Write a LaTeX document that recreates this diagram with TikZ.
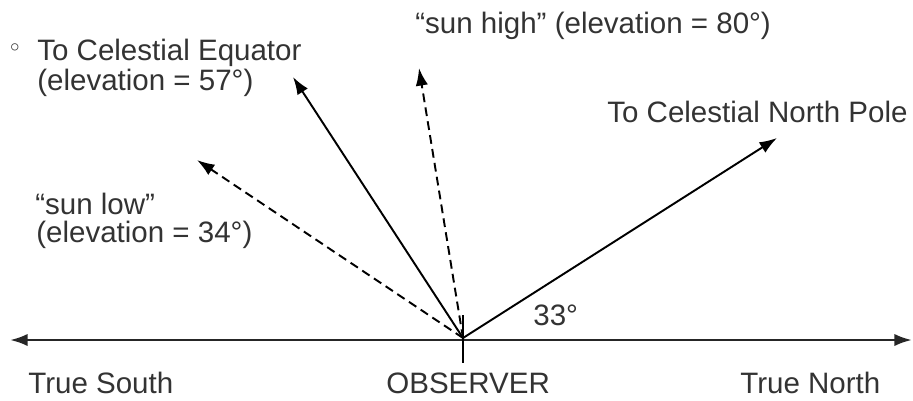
\documentclass[tikz,border=0pt]{standalone}
\usepackage{fontspec}
\setmainfont{Liberation Sans}
\newfontfamily\symfont{DejaVu Sans}
\usetikzlibrary{arrows.meta}

\begin{document}
\begin{tikzpicture}[
    x=0.02cm, y=-0.02cm,
    label/.style={
        anchor=base west,
        inner sep=0pt,
        text=black!80,
        font=\fontsize{16.8}{20}\selectfont
    },
    axis/.style={
        {Latex[length=10pt,width=7pt]}-{Latex[length=10pt,width=7pt]},
        line width=1.5pt,
        draw=black!85
    },
    ray/.style={
        -{Latex[length=10pt,width=7pt]},
        line width=1.1pt
    },
    sunray/.style={
        ray,
        dash pattern=on 5pt off 3pt
    }
]
\useasboundingbox (0,0) rectangle (913,400);

% ground line and observer
\coordinate (obs) at (463,338);
\coordinate (south) at (10,340);
\coordinate (north) at (912,340);
\coordinate (ticktop) at (463,315);
\coordinate (tickbot) at (463,363);

% ray ends
\coordinate (equator) at (293,77);
\coordinate (pole) at (777,138);
\coordinate (sunhigh) at (419,68);
\coordinate (sunlow) at (197,160);

% texts
\node[label] (eqtext) at (37,60) {To Celestial Equator};
\node[anchor=center, inner sep=0pt, text=black!80,
      font=\symfont\fontsize{14}{16}\selectfont] (bullet) at (15,50) {◦};
\node[label] (eqelev) at (37,90) {(elevation = 57°)};
\node[label] (hightext) at (415,33) {“sun high” (elevation = 80°)};
\node[label] (poletext) at (607,122) {To Celestial North Pole};
\node[label] (lowtext) at (35,214) {“sun low”};
\node[label] (lowelev) at (36,242) {(elevation = 34°)};
\node[label] (angle) at (533,325) {33°};
\node[label] (southtext) at (28,393) {True South};
\node[label] (obstext) at (386,393) {OBSERVER};
\node[label] (northtext) at (740,393) {True North};

% lines
\draw[axis] (south) -- (north);
\draw[line width=1.3pt] (ticktop) -- (tickbot);
\draw[ray] (obs) -- (equator);
\draw[ray] (obs) -- (pole);
\draw[sunray] (obs) -- (sunhigh);
\draw[sunray] (obs) -- (sunlow);

\end{tikzpicture}
\end{document}
